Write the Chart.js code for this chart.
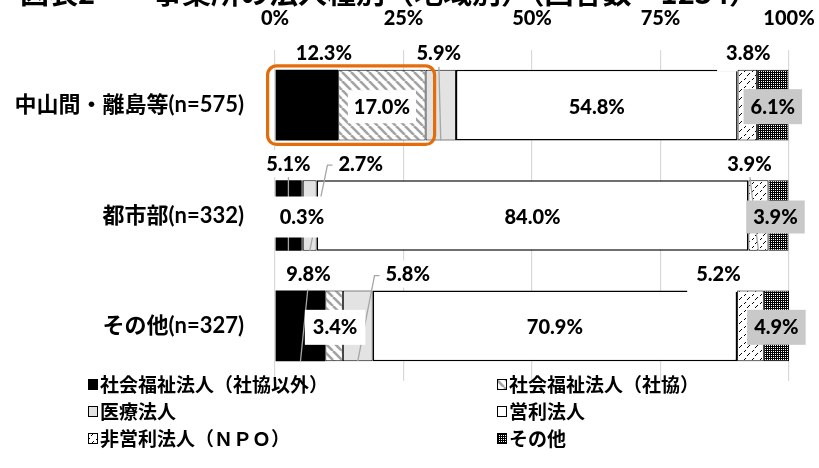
<!DOCTYPE html>
<html>
<head>
<meta charset="utf-8">
<script src="https://cdn.jsdelivr.net/npm/chart.js@4/dist/chart.umd.min.js"></script>
<style>
  html, body { margin: 0; padding: 0; background: #fff; }
  #wrap { position: relative; width: 819px; height: 468px; }
</style>
</head>
<body>
<div id="wrap"><canvas id="c" width="819" height="468"></canvas></div>
<script>
// ---- data ----
const titleText = '図表2　　事業所の法人種別（地域別）（回答数＝1234）';
const categories = ['中山間・離島等(n=575)', '都市部(n=332)', 'その他(n=327)'];
const seriesNames = ['社会福祉法人（社協以外）', '社会福祉法人（社協）', '医療法人', '営利法人', '非営利法人（ＮＰＯ）', 'その他'];
const shakyoIgai = [12.3, 5.1, 9.8];
const shakyo = [17.0, 0.3, 3.4];
const iryo = [5.9, 2.7, 5.8];
const eiri = [54.8, 84.0, 70.9];
const npo = [3.8, 3.9, 5.2];
const sonota = [6.1, 3.9, 4.9];
const xTicks = [0, 25, 50, 75, 100];

// ---- patterns ----
function makePattern(w, h, draw) {
  const c = document.createElement('canvas');
  c.width = w; c.height = h;
  const g = c.getContext('2d');
  draw(g, w, h);
  return document.createElement('canvas').getContext('2d').createPattern(c, 'repeat');
}
const patShakyo = makePattern(9, 9, (g, w, h) => {
  g.fillStyle = '#fff'; g.fillRect(0, 0, w, h);
  g.strokeStyle = '#a3a3a3'; g.lineWidth = 2.6;
  for (let o = -w; o <= w; o += w) {
    g.beginPath(); g.moveTo(o, 0); g.lineTo(o + w, h); g.stroke();
  }
});
const patNpo = makePattern(8, 8, (g, w, h) => {
  g.fillStyle = '#fff'; g.fillRect(0, 0, w, h);
  g.fillStyle = '#000';
  g.fillRect(5, 1, 1, 1); g.fillRect(4, 2, 1, 1); g.fillRect(3, 3, 1, 1);
  g.fillRect(1, 6, 1, 1); g.fillRect(0, 7, 1, 1);
});
const patSonota = makePattern(2, 2, (g, w, h) => {
  g.fillStyle = '#000'; g.fillRect(0, 0, w, h);
  g.fillStyle = '#fff';
  g.fillRect(1, 1, 1, 1);
});

const seriesData = [shakyoIgai, shakyo, iryo, eiri, npo, sonota];
const fills = ['#000000', patShakyo, '#e3e3e3', '#ffffff', patNpo, patSonota];
const borderWidths = [0, 1, 1, 1.5, 1, 1];

// label placement (layout only)
const labelLayout = [
  [ {pos:'above', dx:17}, {pos:'in', bg:'#fff', pad:[6,9]}, {pos:'above', dx:-2, leader:'v'}, {pos:'in'}, {pos:'above', dx:1, cover:true}, {pos:'in', bg:'#c9c9c9', pad:[7,10]} ],
  [ {pos:'above', dx:0, leader:'v'}, {pos:'in', bg:'#fff', pad:[12,13]}, {pos:'above', dx:51, leader:'elbow'}, {pos:'in'}, {pos:'above', dx:-9, leader:'v'}, {pos:'in', bg:'#c9c9c9', pad:[7,9], dx:-3} ],
  [ {pos:'above', dx:8, leader:'v', pad:[8,12]}, {pos:'in', bg:'#fff', pad:[8,10], dx:1}, {pos:'above', dx:50, leader:'elbow'}, {pos:'in'}, {pos:'above', dx:-32, cover:true}, {pos:'in', bg:'#c9c9c9', pad:[7,10]} ]
];

const FONT_FAMILY = 'Lato, "Noto Sans CJK JP", sans-serif';
Chart.defaults.font.family = FONT_FAMILY;
Chart.defaults.color = '#000';

const labelPlugin = {
  id: 'labels',
  afterDatasetsDraw(chart) {
    const ctx = chart.ctx;
    ctx.save();
    ctx.font = '900 20px ' + FONT_FAMILY;
    const items = [];
    seriesData.forEach((arr, si) => {
      const meta = chart.getDatasetMeta(si);
      arr.forEach((v, ci) => {
        const el = meta.data[ci];
        const p = el.getProps(['x', 'y', 'base', 'height'], true);
        const L = labelLayout[ci][si];
        const segC = (p.x + p.base) / 2;
        const top = p.y - p.height / 2, bot = p.y + p.height / 2;
        const text = v.toFixed(1) + '%';
        const w = ctx.measureText(text).width;
        const cx = segC + (L.dx || 0);
        const cy = L.pos === 'above' ? top - 16 : p.y + 2;
        items.push({L, text, w, cx, cy, segC, top, bot, base: Math.min(p.x, p.base)});
      });
    });
    // leader lines
    ctx.strokeStyle = '#a6a6a6'; ctx.lineWidth = 1.3;
    items.forEach(it => {
      if (!it.L.leader) return;
      ctx.beginPath();
      if (it.L.leader === 'v') {
        ctx.moveTo(it.cx, it.cy + 8);
      } else {
        const lx = it.cx - it.w / 2 - 2;
        ctx.moveTo(lx, it.cy + 1);
        ctx.lineTo(lx - 9, it.cy + 1);
      }
      ctx.lineTo(it.segC, it.bot);
      ctx.stroke();
    });
    // boxes
    items.forEach(it => {
      const L = it.L;
      if (L.cover) {
        ctx.fillStyle = '#fff';
        ctx.fillRect(it.cx - it.w / 2 - 9, it.top - 2, it.base - (it.cx - it.w / 2 - 9), 3.5);
      }
      let bg = L.bg || (L.pos === 'above' ? '#fff' : null);
      if (!bg) return;
      const pad = L.pad || [6, 6];
      let y0 = it.cy - 8 - pad[1], y1 = it.cy + 7 + pad[1];
      if (L.pos === 'above') y1 = Math.min(y1, it.top - 1);
      ctx.fillStyle = bg;
      ctx.fillRect(it.cx - it.w / 2 - pad[0], y0, it.w + 2 * pad[0], y1 - y0);
    });
    // text
    ctx.fillStyle = '#000';
    ctx.textAlign = 'center';
    ctx.textBaseline = 'middle';
    items.forEach(it => ctx.fillText(it.text, it.cx, it.cy));
    ctx.restore();
  },
  afterDraw(chart) {
    const ctx = chart.ctx;
    ctx.save();
    // highlight box around first two segments of the first category
    const m0 = chart.getDatasetMeta(0).data[0].getProps(['x','y','base','height'], true);
    const m1 = chart.getDatasetMeta(1).data[0].getProps(['x','y','base','height'], true);
    const bx0 = m0.base - 8, bx1 = m1.x + 9;
    const by0 = m0.y - m0.height / 2 - 4, by1 = m0.y + m0.height / 2 + 4;
    ctx.strokeStyle = '#E46C0A'; ctx.lineWidth = 3.2;
    ctx.beginPath();
    ctx.roundRect(bx0, by0, bx1 - bx0, by1 - by0, 9);
    ctx.stroke();

    // title (cut off at top)
    ctx.fillStyle = '#000';
    ctx.font = 'bold 29px "Noto Sans CJK JP", sans-serif';
    ctx.textAlign = 'left'; ctx.textBaseline = 'alphabetic';
    ctx.fillText(titleText, 20, 4);

    // legend in two columns
    ctx.font = 'bold 19px "Noto Sans CJK JP", sans-serif';
    ctx.textBaseline = 'middle';
    const colX = [88, 497], rowY = [384, 411, 438];
    seriesNames.forEach((name, i) => {
      const x = colX[i % 2], y = rowY[Math.floor(i / 2)];
      ctx.fillStyle = fills[i];
      ctx.fillRect(x, y - 5, 10, 11);
      ctx.strokeStyle = '#000'; ctx.lineWidth = 1;
      ctx.strokeRect(x + 0.5, y - 4.5, 9, 10);
      ctx.fillStyle = '#000';
      ctx.fillText(name, x + 12, y + 1);
    });
    ctx.restore();
  }
};

new Chart(document.getElementById('c'), {
  type: 'bar',
  data: {
    labels: categories,
    datasets: seriesNames.map((n, i) => ({
      label: n,
      data: seriesData[i],
      backgroundColor: fills[i],
      borderColor: '#000',
      borderWidth: borderWidths[i],
      borderSkipped: false,
      barPercentage: 1,
      categoryPercentage: 0.64
    }))
  },
  options: {
    indexAxis: 'y',
    responsive: false,
    animation: false,
    layout: { padding: { top: 2, right: 30, bottom: 87, left: 0 } },
    plugins: { legend: { display: false }, tooltip: { enabled: false } },
    scales: {
      x: {
        position: 'top', stacked: true, min: 0, max: 100,
        afterBuildTicks: s => { s.ticks = xTicks.map(v => ({ value: v })); },
        afterFit: s => { s.height = 48; s.paddingLeft = 0; s.paddingRight = 0; },
        ticks: { callback: v => v + '%', font: { size: 20, weight: '900' }, padding: 19, color: '#000', maxRotation: 0 },
        grid: { color: '#d9d9d9', drawTicks: false, lineWidth: 1.2 },
        border: { display: false }
      },
      y: {
        stacked: true,
        afterFit: s => { s.width = 275; },
        ticks: { font: { size: 22, weight: 'bold' }, padding: 23, color: '#000' },
        grid: { display: false },
        border: { display: false }
      }
    }
  },
  plugins: [labelPlugin]
});
</script>
</body>
</html>
